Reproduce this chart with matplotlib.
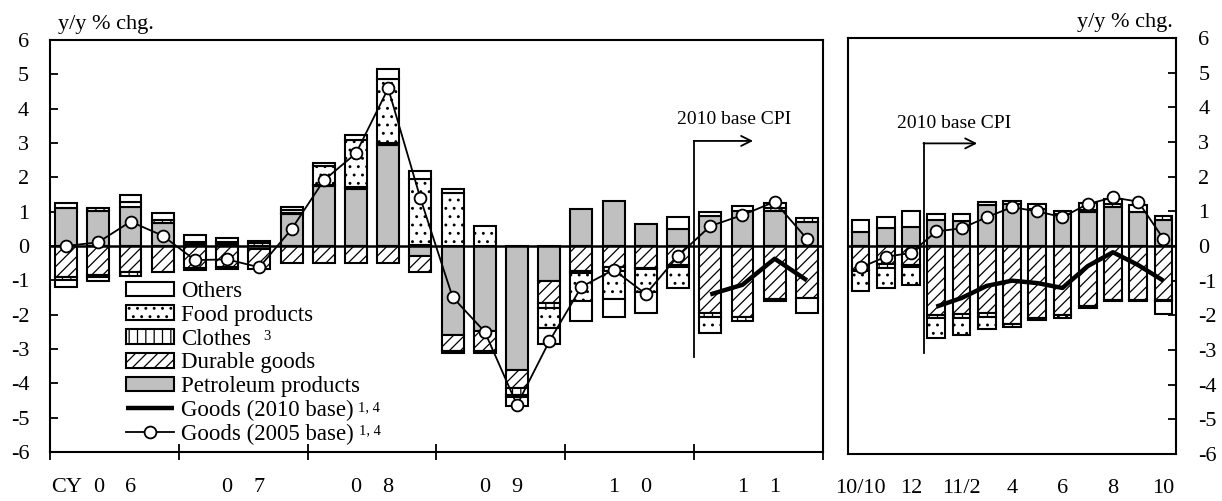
import numpy as np
import matplotlib
matplotlib.use('Agg')
import matplotlib.pyplot as plt

plt.rcParams['font.family'] = ['Liberation Serif', 'DejaVu Serif']
plt.rcParams['hatch.linewidth'] = 0.9
plt.rcParams['axes.unicode_minus'] = False

# ---------------- data: quarterly (CY2006 Q1 - CY2011 Q4) ----------------
year_labels = ['0 6', '0 7', '0 8', '0 9', '1 0', '1 1']
petroleum_q = [1.12, 1.03, 1.15, 0.68, 0.07, 0.07, -0.08, 0.92, 1.75, 1.67, 2.95, -0.30,
               -2.60, -2.48, -3.60, -1.03, 1.08, 1.31, 0.63, 0.50, 0.88, 1.03, 1.03, 0.70]
durable_q = [-0.90, -0.85, -0.77, -0.75, -0.65, -0.62, -0.58, -0.50, -0.50, -0.50, -0.49, -0.45,
             -0.45, -0.58, -0.55, -0.62, -0.72, -0.60, -0.63, -0.54, -1.96, -2.07, -1.55, -1.52]
clothes_q = [-0.08, -0.05, -0.10, 0.08, -0.05, -0.04, 0.10, 0.03, 0.03, 0.05, 0.05, 0.04,
             -0.07, -0.07, -0.20, -0.17, -0.08, -0.13, -0.05, -0.08, -0.12, -0.10, 0.07, 0.13]
food_q = [0.14, 0.09, 0.12, 0.0, 0.04, 0.04, 0.0, 0.10, 0.55, 1.38, 1.85, 1.90,
          1.54, 0.58, -0.05, -0.58, -0.80, -0.82, -0.67, -0.60, -0.45, 0.0, -0.06, 0.0]
others_q = [-0.22, -0.12, 0.22, 0.21, 0.20, 0.11, 0.06, 0.08, 0.09, 0.12, 0.30, 0.25,
            0.11, 0.0, -0.25, -0.46, -0.58, -0.51, -0.60, 0.35, 0.12, 0.14, 0.14, -0.42]
goods2005_q = [0.00, 0.11, 0.71, 0.30, -0.41, -0.39, -0.62, 0.49, 1.91, 2.70, 4.59, 1.39,
               -1.49, -2.50, -4.63, -2.78, -1.19, -0.69, -1.40, -0.29, 0.58, 0.90, 1.29, 0.21]
goods2010_q = [np.nan] * 20 + [-1.41, -1.13, -0.37, -1.00]

# ---------------- data: monthly (2010/10 - 2011/10) ----------------
month_labels = ['10/10', '', '12', '', '11/2', '', '4', '', '6', '', '8', '', '10']
petroleum_m = [0.41, 0.51, 0.56, 0.75, 0.72, 1.18, 1.22, 1.07, 0.92, 0.97, 1.12, 0.97, 0.74]
durable_m = [-0.68, -0.53, -0.55, -1.99, -1.97, -1.94, -2.25, -2.08, -1.99, -1.73, -1.55, -1.55, -1.55]
clothes_m = [-0.05, -0.10, -0.07, -0.10, -0.10, -0.12, -0.08, -0.06, 0.0, 0.06, 0.10, 0.0, 0.12]
food_m = [-0.58, -0.58, -0.50, -0.57, -0.50, -0.32, 0.0, 0.0, -0.10, -0.06, -0.05, -0.05, -0.05]
others_m = [0.35, 0.34, 0.44, 0.17, 0.20, 0.10, 0.09, 0.14, 0.10, 0.20, 0.14, 0.20, -0.35]
goods2005_m = [-0.62, -0.31, -0.20, 0.42, 0.51, 0.83, 1.12, 1.00, 0.83, 1.21, 1.40, 1.28, 0.21]
goods2010_m = [np.nan, np.nan, np.nan, -1.75, -1.50, -1.15, -1.00, -1.07, -1.21, -0.58, -0.18, -0.55, -1.00]

names = ['Petroleum products', 'Durable goods', 'Clothes', 'Food products', 'Others']
styles = {
    'Petroleum products': dict(facecolor='#c0c0c0'),
    'Durable goods': dict(facecolor='white', hatch='///'),
    'Clothes': dict(facecolor='white', hatch='||'),
    'Food products': dict(facecolor='white', hatch='..'),
    'Others': dict(facecolor='white'),
}

FS = 16

fig = plt.figure(figsize=(12.22, 5.01), dpi=100)
axL = fig.add_axes([50 / 1222, 49 / 501, 773 / 1222, 412 / 501])
axR = fig.add_axes([848 / 1222, 47 / 501, 328 / 1222, 416 / 501])


def draw_bars(ax, comps, width):
    n = len(comps[0])
    x = np.arange(n)
    pos = np.zeros(n)
    neg = np.zeros(n)
    handles = {}
    for name, vals in zip(names, comps):
        v = np.asarray(vals, dtype=float)
        bottom = np.where(v >= 0, pos, neg)
        m = v != 0
        b = ax.bar(x[m], v[m], width, bottom=bottom[m], edgecolor='black',
                   linewidth=1.5, zorder=2, **styles[name])
        handles[name] = b
        pos += np.where(v > 0, v, 0)
        neg += np.where(v < 0, v, 0)
    return x, handles


xq, hq = draw_bars(axL, [petroleum_q, durable_q, clothes_q, food_q, others_q], 0.68)
xm, hm = draw_bars(axR, [petroleum_m, durable_m, clothes_m, food_m, others_m], 0.70)

for ax, x, g05, g10 in [(axL, xq, goods2005_q, goods2010_q), (axR, xm, goods2005_m, goods2010_m)]:
    ax.axhline(0, color='black', lw=1.8, zorder=3)
    l10, = ax.plot(x, g10, color='black', lw=3.2, zorder=4, solid_capstyle='butt')
    l05, = ax.plot(x, g05, color='black', lw=1.3, marker='o', ms=8.5, mfc='white',
                   mec='black', mew=1.3, zorder=5)
    ax.set_ylim(-6, 6)
    for s in ax.spines.values():
        s.set_linewidth(1.5)

axL.set_xlim(-0.5, len(xq) - 0.5)
axR.set_xlim(-0.5, len(xm) - 0.5)

# y axes
axL.set_yticks(np.arange(-6, 7, 1))
axL.tick_params(axis='y', direction='in', length=6, width=1.3, labelsize=FS, pad=15)
axR.yaxis.tick_right()
axR.set_yticks(np.arange(-6, 7, 1))
axR.tick_params(axis='y', direction='in', length=6, width=1.3, labelsize=FS, pad=16)
axR.tick_params(axis='y', left=False)

# x axes
axL.set_xticks(np.arange(-0.5, len(xq), 4))
axL.set_xticklabels([])
axL.tick_params(axis='x', direction='inout', length=12, width=1.3)
axR.set_xticks([])

tr = axL.get_xaxis_transform()
for i, lab in enumerate(year_labels):
    c = 1.5 + 4 * i
    a, b = lab.split(' ')
    axL.text(c - 0.5, -0.087, a, transform=tr, ha='center', va='center', fontsize=FS)
    axL.text(c + 0.5, -0.087, b, transform=tr, ha='center', va='center', fontsize=FS)
axL.text(-0.45, -0.087, 'CY', transform=tr, ha='left', va='center', fontsize=FS)

trR = axR.get_xaxis_transform()
for i, lab in enumerate(month_labels):
    if lab:
        axR.text(i, -0.082, lab, transform=trR, ha='center', va='center', fontsize=FS)

# unit labels
fig.text(58 / 1222, 1 - 25 / 501, 'y/y % chg.', ha='left', va='center', fontsize=FS)
fig.text(1173 / 1222, 1 - 22 / 501, 'y/y % chg.', ha='right', va='center', fontsize=FS)

# 2010 base CPI annotations
for ax, xv, ybot, ytop, xarr, xtxt, ytxt in [(axL, 19.5, -3.22, 3.06, 21.33, 18.96, 3.67),
                                             (axR, 2.5, -3.10, 2.96, 4.62, 1.44, 3.52)]:
    ax.plot([xv, xv], [ybot, ytop], color='black', lw=1.3, zorder=6)
    ax.annotate('', xy=(xarr, ytop), xytext=(xv - 0.01, ytop),
                arrowprops=dict(arrowstyle='->', color='black', lw=1.3,
                                shrinkA=0, shrinkB=0, mutation_scale=18), zorder=6)
    ax.text(xtxt, ytxt, '2010 base CPI', ha='left', va='center', fontsize=14)

# legend
handles = [hq['Others'], hq['Food products'], hq['Clothes'], hq['Durable goods'],
           hq['Petroleum products'], l10, l05]
labels = ['Others', 'Food products', 'Clothes', 'Durable goods',
          'Petroleum products', 'Goods (2010 base)', 'Goods (2005 base)']
sups = {'Clothes': '3', 'Goods (2010 base)': '1, 4', 'Goods (2005 base)': '1, 4'}
leg = axL.legend(handles, labels, loc='upper left', bbox_to_anchor=(0.098, 0.415),
                 frameon=False, fontsize=16.5, handlelength=2.1, handleheight=0.62,
                 handletextpad=0.3, labelspacing=0.12, borderpad=0, borderaxespad=0)

fig.canvas.draw()
renderer = fig.canvas.get_renderer()
for t in leg.get_texts():
    s = t.get_text()
    if s in sups:
        bb = t.get_window_extent(renderer)
        gap = 12 if s == 'Clothes' else 5
        fig.text((bb.x1 + gap) / fig.bbox.width, (bb.y1 - 1) / fig.bbox.height, sups[s],
                 ha='left', va='top', fontsize=10.5)

fig.savefig('out.png', dpi=100)
